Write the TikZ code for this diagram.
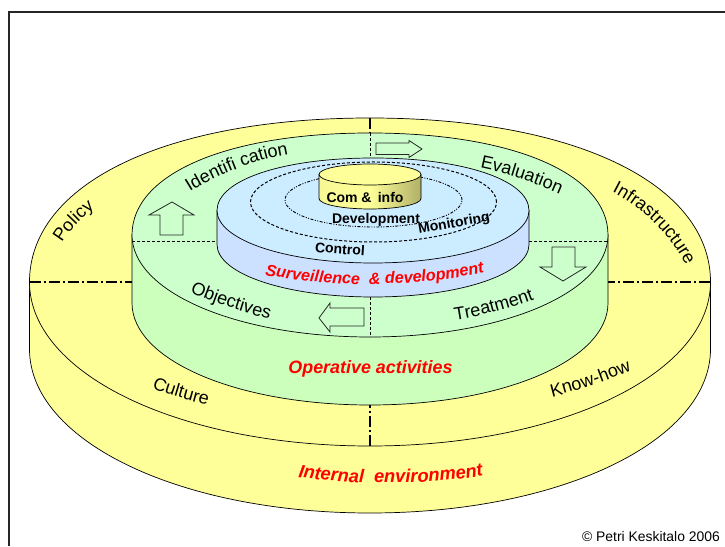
\documentclass[tikz,border=0pt]{standalone}
\usepackage{fontspec}
\setmainfont{Liberation Sans}
\usetikzlibrary{decorations.text}
\definecolor{ylw}{HTML}{FFFF99}
\definecolor{grntop}{HTML}{CCFFCC}
\definecolor{grnside}{HTML}{CCFFBB}
\definecolor{blutop}{HTML}{CCECFF}
\definecolor{bluside}{HTML}{CCE0FF}
\definecolor{olv}{HTML}{B0B068}
\newcommand\lblfont{\fontsize{18}{18}\selectfont}
\newcommand\redfont{\fontsize{16.2}{16.2}\selectfont\bfseries\itshape\color{red}}
\newcommand\redfontb{\fontsize{18.3}{18.3}\selectfont\bfseries\itshape\color{red}}
\newcommand\cylinder[9]{%
  \draw[edge,fill=#7] (#1-#3,#2) -- ++(0,-#5)
     .. controls (#1-#3,#2-#5-#9*#4) and (#1-#9*#3,#2-#5-#4) .. (#1,#2-#5-#4)
     .. controls (#1+#9*#3,#2-#5-#4) and (#1+#3,#2-#5-#9*#4) .. (#1+#3,#2-#5)
     -- (#1+#3,#2) -- cycle;
  \draw[edge,fill=#6] (#1-#3,#2)
     .. controls (#1-#3,#2+#8*#4) and (#1-#8*#3,#2+#4) .. (#1,#2+#4)
     .. controls (#1+#8*#3,#2+#4) and (#1+#3,#2+#8*#4) .. (#1+#3,#2)
     .. controls (#1+#3,#2-#9*#4) and (#1+#9*#3,#2-#4) .. (#1,#2-#4)
     .. controls (#1-#9*#3,#2-#4) and (#1-#3,#2-#9*#4) .. (#1-#3,#2) -- cycle;
}
\newcommand\curvetext[2]{%
  \path[decorate,decoration={text along path,text={|\lblfont|#2}}] #1;
}
\tikzset{
  edge/.style={draw=black,line width=0.7pt},
  thin dash/.style={line width=0.8pt,dash pattern=on 3pt off 2pt},
  thick dashdot/.style={line width=1.7pt,dash pattern=on 11pt off 3pt on 2pt off 3pt},
  blockarrow/.style={draw=black!85,line width=0.8pt,fill=grntop},
  boldlabel/.style={font=\fontsize{14}{14}\selectfont\bfseries,inner sep=0pt},
}
\begin{document}
\begin{tikzpicture}[x=1pt,y=1pt]
\useasboundingbox (0,0) rectangle (725,546);
% frame
\draw[line width=1.4pt,draw=black!85] (9,0) -- (9,534) -- (725,534);
% outer cylinder
\cylinder{370}{264}{340.5}{164}{67}{ylw}{ylw}{0.6}{0.56}
% outer axis lines
\draw[thick dashdot] (29.5,264) -- (132,264);
\draw[thick dashdot] (710,264) -- (608,264);
\draw[thick dashdot] (370,428) -- (370,405);
\draw[thick dashdot] (370,100) -- (370,141);
% green cylinder
\cylinder{370}{311}{238}{102}{68}{grntop}{grnside}{0.6}{0.56}
% inner axis lines
\draw[thin dash] (132,304.5) -- (217,304.5);
\draw[thin dash] (529,304.5) -- (608,304.5);
\draw[thin dash] (370,413) -- (370,385);
\draw[thin dash] (370,249) -- (370,209);
% blue cylinder
\cylinder{373}{335.5}{156}{52.5}{34}{blutop}{bluside}{0.58}{0.56}
% orbits
\draw[line width=1pt,dash pattern=on 3pt off 2pt] (373.5,344) ellipse[x radius=123,y radius=40];
\draw[line width=0.9pt,dash pattern=on 3pt off 1.5pt on 1pt off 1.5pt on 1pt off 1.5pt] (373.5,346) ellipse[x radius=88.5,y radius=27];
% small cylinder
\shade[left color=ylw!90!olv,right color=olv,middle color=ylw] (319,371.5) -- ++(0,-24) arc[start angle=180,end angle=360,x radius=51,y radius=10.5] -- ++(0,24) -- cycle;
\draw[edge] (319,371.5) -- ++(0,-24) arc[start angle=180,end angle=360,x radius=51,y radius=10.5] -- ++(0,24);
\draw[edge,fill=ylw] (370,371.5) ellipse[x radius=51,y radius=10.5];
% block arrows
\draw[blockarrow] (376,403) -- (409,403) -- (409,405.5) -- (422,397) -- (409,388.5) -- (409,391.5) -- (376,391.5) -- cycle;
\draw[blockarrow] (172,344) -- (194,331) -- (183,331) -- (183,311) -- (160,311) -- (160,331) -- (149,331) -- cycle;
\draw[blockarrow] (552,299) -- (575,299) -- (575,279) -- (586,279) -- (563,265) -- (540,279) -- (552,279) -- cycle;
\draw[blockarrow] (319,228) -- (330,243) -- (330,238) -- (364,238) -- (364,220) -- (330,220) -- (330,214) -- cycle;
% curved labels
\curvetext{(62,303) .. controls (72,320) and (90,336) .. (112,350)}{Policy}
\curvetext{(190,354) .. controls (222,374) and (265,390) .. (305,394)}{Identifi cation}
\curvetext{(480,378) .. controls (505,373) and (540,362) .. (575,345)}{Evaluation}
\curvetext{(612,354) .. controls (640,340) and (672,312) .. (690,272)}{Infrastructure}
\curvetext{(190,254) .. controls (215,242) and (250,232) .. (285,222)}{Objectives}
\curvetext{(455,226) .. controls (482,230) and (520,240) .. (550,253)}{Treatment}
\curvetext{(152,158) .. controls (170,150) and (200,143) .. (222,137)}{Culture}
\curvetext{(552,149) .. controls (580,156) and (615,168) .. (645,182)}{Know-how}
\path[decorate,decoration={text along path,text={|\redfont|Surveillence{\ }{\ }{\&} development}}]
  (265,271) .. controls (330,258) and (420,258) .. (495,276);
\path[decorate,decoration={text along path,text={|\redfontb|Internal{\ }{\ }environment}}]
  (298,69) .. controls (350,60.5) and (440,60.5) .. (497,73);
\node[inner sep=0pt,font=\fontsize{17.9}{17.9}\selectfont\bfseries\itshape,text=red] (operative) at (370.5,177) {Operative activities};
\node[boldlabel] (cominfo) at (365,349) {Com \& \,info};
\node[boldlabel] (development) at (376,326) {Development};
\node[boldlabel,rotate=-4] (control) at (340,297) {Control};
\node[boldlabel,rotate=10] (monitoring) at (454,322) {Monitoring};
\node[inner sep=0pt,anchor=base east,font=\fontsize{13.9}{13.9}\selectfont] (credit) at (720,5) {© Petri Keskitalo 2006};
\end{tikzpicture}
\end{document}
